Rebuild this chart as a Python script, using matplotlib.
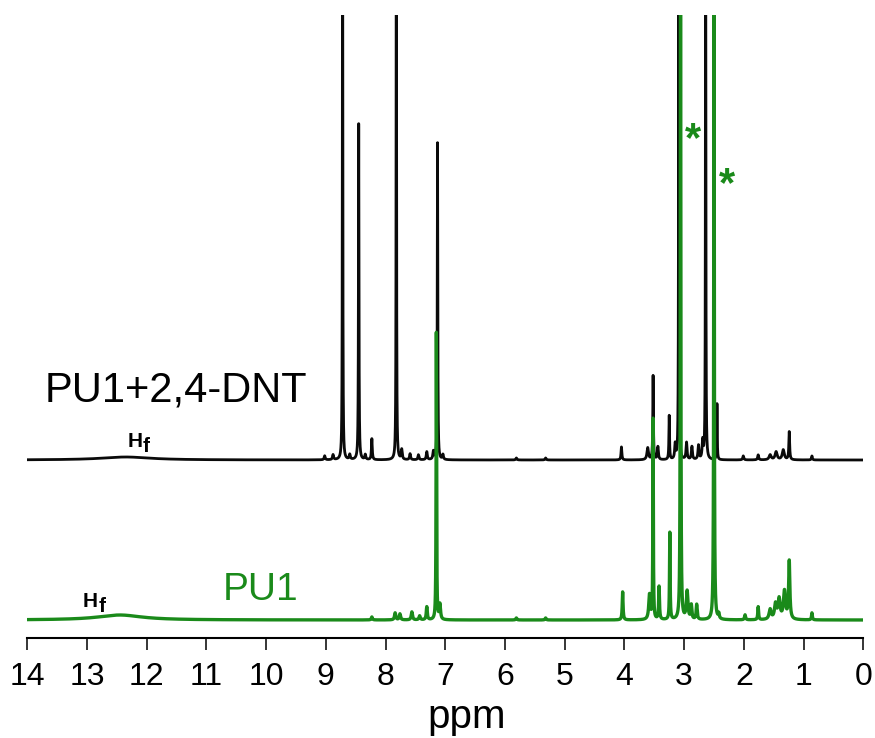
import numpy as np
import matplotlib
matplotlib.use("Agg")
import matplotlib.pyplot as plt

plt.rcParams['font.family'] = ['Liberation Sans', 'DejaVu Sans']

# ---------------- data ----------------
# PU1+2,4-DNT (black) peak list: position (ppm), height, half-width (ppm)
dnt_ppm = [12.35, 9.02, 8.88, 8.72, 8.60, 8.45, 8.34, 8.23, 7.82, 7.73, 7.59, 7.45,
           7.31, 7.20, 7.13, 7.04, 5.81, 5.32, 4.05, 3.61, 3.52, 3.44, 3.25, 3.15,
           3.09, 2.96, 2.87, 2.76, 2.69, 2.64, 2.45, 2.01, 1.76, 1.56, 1.46, 1.34,
           1.24, 0.86]
dnt_height = [3, 4, 5, 650, 5, 336, 5, 21, 650, 10, 6, 5,
              8, 8, 317, 5, 2, 2, 13, 12, 84, 13, 44, 15,
              650, 17, 13, 14, 18, 650, 56, 4, 5, 5, 8, 10,
              28, 4]
dnt_width = [0.5, 0.01, 0.01, 0.004, 0.01, 0.005, 0.01, 0.008, 0.004, 0.01, 0.01, 0.01,
             0.01, 0.01, 0.005, 0.01, 0.01, 0.01, 0.008, 0.015, 0.006, 0.01, 0.006, 0.01,
             0.004, 0.01, 0.01, 0.01, 0.01, 0.004, 0.005, 0.01, 0.01, 0.02, 0.02, 0.02,
             0.008, 0.008]

# PU1 (green) peak list
pu1_ppm = [12.45, 8.23, 7.84, 7.76, 7.56, 7.43, 7.31, 7.15, 7.09, 5.81, 5.32, 4.03,
           3.58, 3.52, 3.42, 3.24, 3.06, 2.95, 2.88, 2.79, 2.50, 2.42, 1.98, 1.76,
           1.56, 1.47, 1.41, 1.32, 1.24, 0.86]
pu1_height = [5, 3, 7, 6, 8, 4, 13, 287, 15, 2, 2, 28,
              25, 200, 33, 87, 720, 28, 14, 15, 720, 5, 5, 13,
              10, 15, 20, 28, 58, 7]
pu1_width = [0.45, 0.01, 0.012, 0.012, 0.012, 0.012, 0.01, 0.005, 0.012, 0.01, 0.01, 0.008,
             0.015, 0.005, 0.008, 0.006, 0.005, 0.015, 0.01, 0.01, 0.005, 0.01, 0.01, 0.008,
             0.02, 0.02, 0.02, 0.02, 0.012, 0.008]

dnt_offset = 160
tick_values = list(range(0, 15))
tick_labels = [str(v) for v in tick_values]

# ---------------- spectra from peak lists (Lorentzian line shapes) ----------------
ppm = np.linspace(14, 0, 28001)


def spectrum(pos, hts, wds):
    y = np.zeros_like(ppm)
    for p, h, w in zip(pos, hts, wds):
        y += h * w ** 2 / ((ppm - p) ** 2 + w ** 2)
    return y


y_dnt = spectrum(dnt_ppm, dnt_height, dnt_width) + dnt_offset
y_pu1 = spectrum(pu1_ppm, pu1_height, pu1_width)

black = '#0a0a0a'
green = '#1a8a1a'

fig = plt.figure(figsize=(8.75, 7.38), dpi=100)
ax = fig.add_axes([0.0312, 0.1355, 0.9554, 0.8442])

ax.plot(ppm, y_dnt, color=black, lw=2.0, zorder=2)
ax.plot(ppm, y_pu1, color=green, lw=2.4, zorder=3)

ax.set_xlim(14, 0)
ax.set_ylim(-18, 605)

for s in ['left', 'top', 'right']:
    ax.spines[s].set_visible(False)
ax.spines['bottom'].set_linewidth(1.5)
ax.set_yticks([])
ax.set_xticks(tick_values)
ax.set_xticklabels(tick_labels)
ax.tick_params(axis='x', direction='out', length=8.6, width=1.1, pad=8.6,
               labelsize=23, colors='black')

ax.set_xlabel('ppm', fontsize=29, va='baseline')
ax.xaxis.set_label_coords(0.526, -0.1445)

# labels
ax.text(13.71, 218, 'PU1+2,4-DNT', fontsize=30, color='black', ha='left', va='baseline')
ax.text(10.73, 20, 'PU1', fontsize=28, color=green, ha='left', va='baseline')

ax.text(12.32, 173, 'H', fontsize=15, fontweight='bold', color='black', ha='left', va='baseline')
ax.text(12.07, 168, 'f', fontsize=15, fontweight='bold', color='black', ha='left', va='baseline')
ax.text(13.07, 13, 'H', fontsize=15, fontweight='bold', color='black', ha='left', va='baseline')
ax.text(12.80, 8, 'f', fontsize=15, fontweight='bold', color='black', ha='left', va='baseline')

ax.text(2.85, 480, '*', fontsize=30, fontweight='bold', color=green, ha='center', va='center')
ax.text(2.28, 435, '*', fontsize=30, fontweight='bold', color=green, ha='center', va='center')

fig.savefig('out.png', dpi=100)
